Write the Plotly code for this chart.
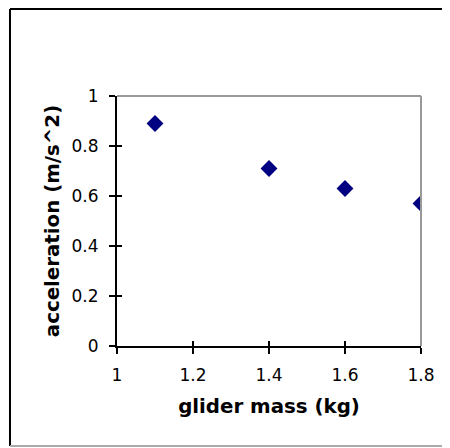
import plotly.graph_objects as go

# glider mass vs acceleration
mass = [1.1, 1.4, 1.6, 1.8]
accel = [0.89, 0.71, 0.63, 0.57]
x_ticks = [1, 1.2, 1.4, 1.6, 1.8]
y_ticks = [0, 0.2, 0.4, 0.6, 0.8, 1]

tick_font = dict(family="DejaVu Sans", size=17, color="black")
title_font = dict(family="DejaVu Sans", size=19.8, color="black")

fig = go.Figure()
fig.add_trace(go.Scatter(x=mass, y=accel, mode="markers",
                         marker=dict(symbol="diamond", size=13, color="#000080"),
                         showlegend=False))

fig.update_layout(
    width=450, height=448,
    margin=dict(l=109, r=37, t=88, b=110),
    paper_bgcolor="white", plot_bgcolor="white",
    xaxis=dict(range=[1, 1.8], tickvals=x_ticks, ticktext=[str(v) for v in x_ticks],
               showgrid=False, zeroline=False, showline=True, linecolor="black", linewidth=2,
               ticks="outside", ticklen=6, tickwidth=2, tickcolor="black",
               tickfont=tick_font, ticklabelstandoff=7,
               title=dict(text="<b>glider mass (kg)</b>", font=title_font, standoff=15)),
    yaxis=dict(range=[0, 1], tickvals=y_ticks, ticktext=[str(v) for v in y_ticks],
               showgrid=False, zeroline=False, showline=True, linecolor="black", linewidth=2,
               ticks="outside", ticklen=6, tickwidth=2, tickcolor="black",
               tickfont=tick_font, ticklabelstandoff=7,
               title=dict(text="<b>acceleration (m/s^2)</b>", font=title_font, standoff=7)),
    xaxis2=dict(range=[1, 1.8], tickvals=x_ticks, overlaying="x", showticklabels=False,
                showgrid=False, zeroline=False, ticks="inside", ticklen=5, tickwidth=2,
                tickcolor="black", side="bottom"),
    yaxis2=dict(range=[0, 1], tickvals=y_ticks, overlaying="y", showticklabels=False,
                showgrid=False, zeroline=False, ticks="inside", ticklen=5, tickwidth=2,
                tickcolor="black", side="left"),
)
fig.add_trace(go.Scatter(x=[], y=[], xaxis="x2", yaxis="y2", showlegend=False))

# gray top/right plot frame
fig.add_shape(type="line", xref="x domain", yref="y domain", x0=0, x1=1, y0=1, y1=1,
              line=dict(color="#999999", width=2))
fig.add_shape(type="line", xref="x domain", yref="y domain", x0=1, x1=1, y0=0, y1=1,
              line=dict(color="#999999", width=2))

# outer chart border
fig.add_shape(type="line", xref="paper", yref="paper", x0=-0.352, x1=-0.352, y0=-0.4, y1=1.348,
              line=dict(color="black", width=2))
fig.add_shape(type="line", xref="paper", yref="paper", x0=-0.352, x1=1.2, y0=1.348, y1=1.348,
              line=dict(color="black", width=2))
fig.add_shape(type="line", xref="paper", yref="paper", x0=-0.352, x1=1.2, y0=-0.4, y1=-0.4,
              line=dict(color="#aaaaaa", width=2))

fig.write_html("out.html")
